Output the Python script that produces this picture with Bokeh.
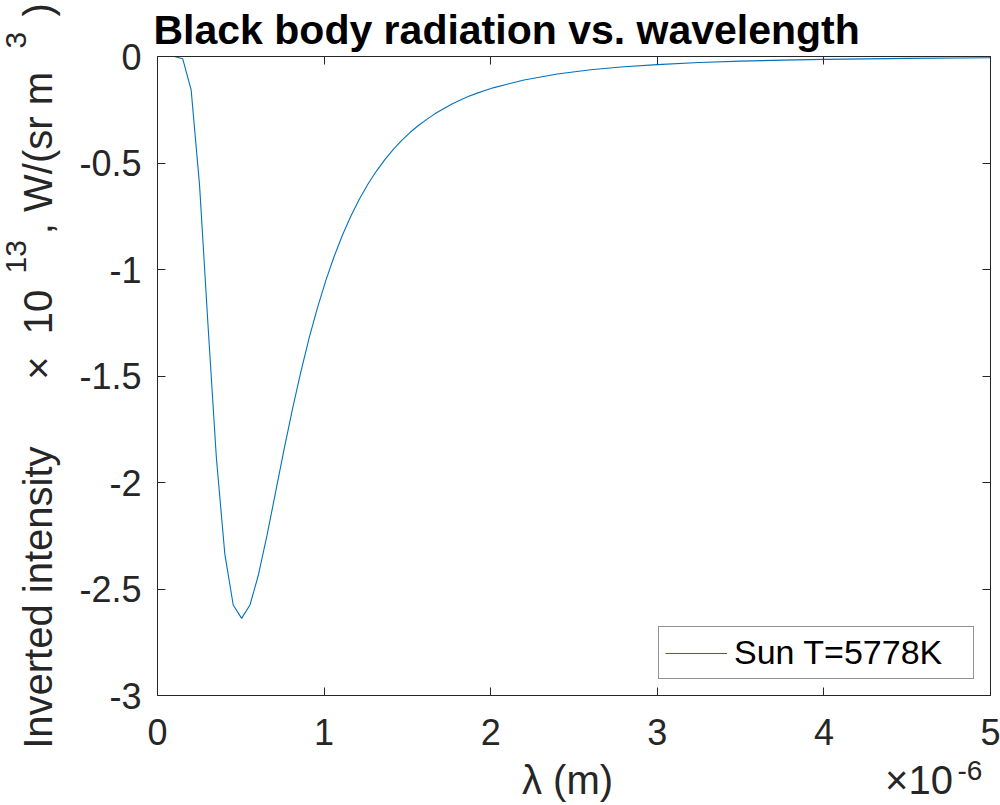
from bokeh.plotting import figure
from bokeh.models import (LinearAxis, FixedTicker, NumeralTickFormatter, Title,
                          CustomJSTickFormatter, Range1d, ColumnDataSource)
from bokeh.embed import file_html
from bokeh.resources import INLINE

# ---- data (wavelength in units of 1e-6 m, inverted intensity in units of 1e13 W/(sr m^3)) ----
wavelength_um = [0.0, 0.0505, 0.1010, 0.1515, 0.2020, 0.2525, 0.3030, 0.3535, 0.4040, 0.4545,
                 0.5051, 0.5556, 0.6061, 0.6566, 0.7071, 0.7576, 0.8081, 0.8586, 0.9091, 0.9596,
                 1.0101, 1.0606, 1.1111, 1.1616, 1.2121, 1.2626, 1.3131, 1.3636, 1.4141, 1.4646,
                 1.5152, 1.5657, 1.6162, 1.6667, 1.7172, 1.7677, 1.8182, 1.8687, 1.9192, 1.9697,
                 2.0202, 2.2, 2.4, 2.6, 2.8, 3.0, 3.25, 3.5, 3.75, 4.0, 4.5, 5.0]
inverted_intensity_e13 = [0.0, 0.0, 0.0, -0.0109, -0.157, -0.605, -1.259, -1.885, -2.335, -2.575,
                          -2.638, -2.574, -2.433, -2.251, -2.052, -1.853, -1.663, -1.486, -1.325, -1.181,
                          -1.052, -0.938, -0.837, -0.748, -0.669, -0.600, -0.539, -0.485, -0.437, -0.395,
                          -0.357, -0.324, -0.295, -0.268, -0.245, -0.223, -0.204, -0.187, -0.172, -0.158,
                          -0.146, -0.110, -0.082, -0.062, -0.048, -0.038, -0.0285, -0.0219, -0.0170, -0.0135,
                          -0.0087, -0.0059]
series_name = "Sun T=5778K"
x_ticks = [0, 1, 2, 3, 4, 5]
y_ticks = [0, -0.5, -1, -1.5, -2, -2.5, -3]
title_text = "Black body radiation vs. wavelength"
NB = "\u00a0"
# y label: main line, with its superscripts ("13" and "3") as a separate raised line
y_label_main = ("Inverted intensity" + NB * 6 + "×" + NB * 2 + "10" + NB * 5
                + ", W/(sr m" + NB * 5 + ")")
y_label_sup = "13" + NB * 23 + "3"
x_label = "λ (m)"
x_exp_base = "×10"
x_exp_sup = "-6"

FONT = "Liberation Sans"
AX = "#262626"

W, H = 1000, 805
FL, FR, FT, FB = 157, 990, 56, 695   # frame edges in page pixels

p = figure(width=W, height=H, output_backend="svg", toolbar_location=None,
           x_range=Range1d(0, 5), y_range=Range1d(-3, 0),
           min_border_left=FL, min_border_right=W - FR, min_border_top=FT,
           min_border_bottom=H - FB, title=title_text)
p.background_fill_color = "white"
p.border_fill_color = "white"
p.outline_line_color = None
p.xgrid.visible = False
p.ygrid.visible = False

p.title.text_font = FONT
p.title.text_font_size = "41px"
p.title.text_font_style = "bold"
p.title.text_color = "#000000"
p.title.align = "left"
p.title.offset = -4
p.title.standoff = 8

def style_axis(ax, ticks, labels=True):
    ax.ticker = FixedTicker(ticks=ticks)
    ax.axis_line_color = AX
    ax.axis_line_width = 1
    ax.major_tick_line_color = AX
    ax.major_tick_in = 8
    ax.major_tick_out = 0
    ax.minor_tick_line_color = None
    ax.major_label_text_font = FONT
    ax.major_label_text_color = AX
    if labels:
        ax.formatter = NumeralTickFormatter(format="0.[0]")
        ax.major_label_text_font_size = "36px"
    else:
        ax.formatter = CustomJSTickFormatter(code="return ''")
        ax.major_label_text_font_size = "1px"
        ax.major_label_standoff = 0

xa = p.xaxis[0]
style_axis(xa, x_ticks)
xa.major_label_standoff = 23

ya = p.yaxis[0]
style_axis(ya, y_ticks)
ya.major_label_standoff = 16
ya.axis_label = y_label_main
ya.axis_label_text_font = FONT
ya.axis_label_text_font_size = "40px"
ya.axis_label_text_font_style = "normal"
ya.axis_label_text_color = AX
ya.axis_label_standoff = 16

# superscripts of the y label (stacked just outside the axis label, pulled back in)
t_sup = Title(text=y_label_sup, align="left", offset=422, standoff=-37,
              text_font=FONT, text_font_size="30px", text_font_style="normal",
              text_color=AX)
p.add_layout(t_sup, "left")

top = LinearAxis()
style_axis(top, x_ticks, labels=False)
p.add_layout(top, "above")
right = LinearAxis()
style_axis(right, y_ticks, labels=False)
p.add_layout(right, "right")

# exponent superscript "-6" (between the tick labels and the x label row)
t_exp = Title(text=x_exp_sup, align="left", offset=800, standoff=27,
              vertical_align="top", text_font=FONT, text_font_size="28px",
              text_font_style="normal", text_color=AX)
p.add_layout(t_exp, "below")

# row with the x label (centred) and the exponent base (right)
x_text_pos = [2.461, 4.571]
lab = LinearAxis(ticker=FixedTicker(ticks=x_text_pos),
                 formatter=CustomJSTickFormatter(
                     args=dict(texts=[x_label, x_exp_base]),
                     code="return texts[index]"))
lab.axis_line_color = None
lab.major_tick_line_color = None
lab.minor_tick_line_color = None
lab.major_label_text_font = FONT
lab.major_label_text_font_size = "40px"
lab.major_label_text_color = AX
lab.major_label_standoff = -44
p.add_layout(lab, "below")

src = ColumnDataSource(dict(x=wavelength_um, y=inverted_intensity_e13))
p.line("x", "y", source=src, line_color="#0072BD", line_width=1.1, legend_label=series_name)

lg = p.legend[0]
lg.location = "bottom_right"
lg.margin = 16
lg.padding = 6
lg.spacing = 0
lg.glyph_width = 62
lg.glyph_height = 30
lg.label_standoff = 7
lg.label_width = 233
lg.label_text_font = FONT
lg.label_text_font_size = "34px"
lg.label_text_color = "#000000"
lg.border_line_color = AX
lg.border_line_width = 1
lg.background_fill_color = "white"
lg.background_fill_alpha = 1.0

open("out.html", "w").write(file_html(p, INLINE))
